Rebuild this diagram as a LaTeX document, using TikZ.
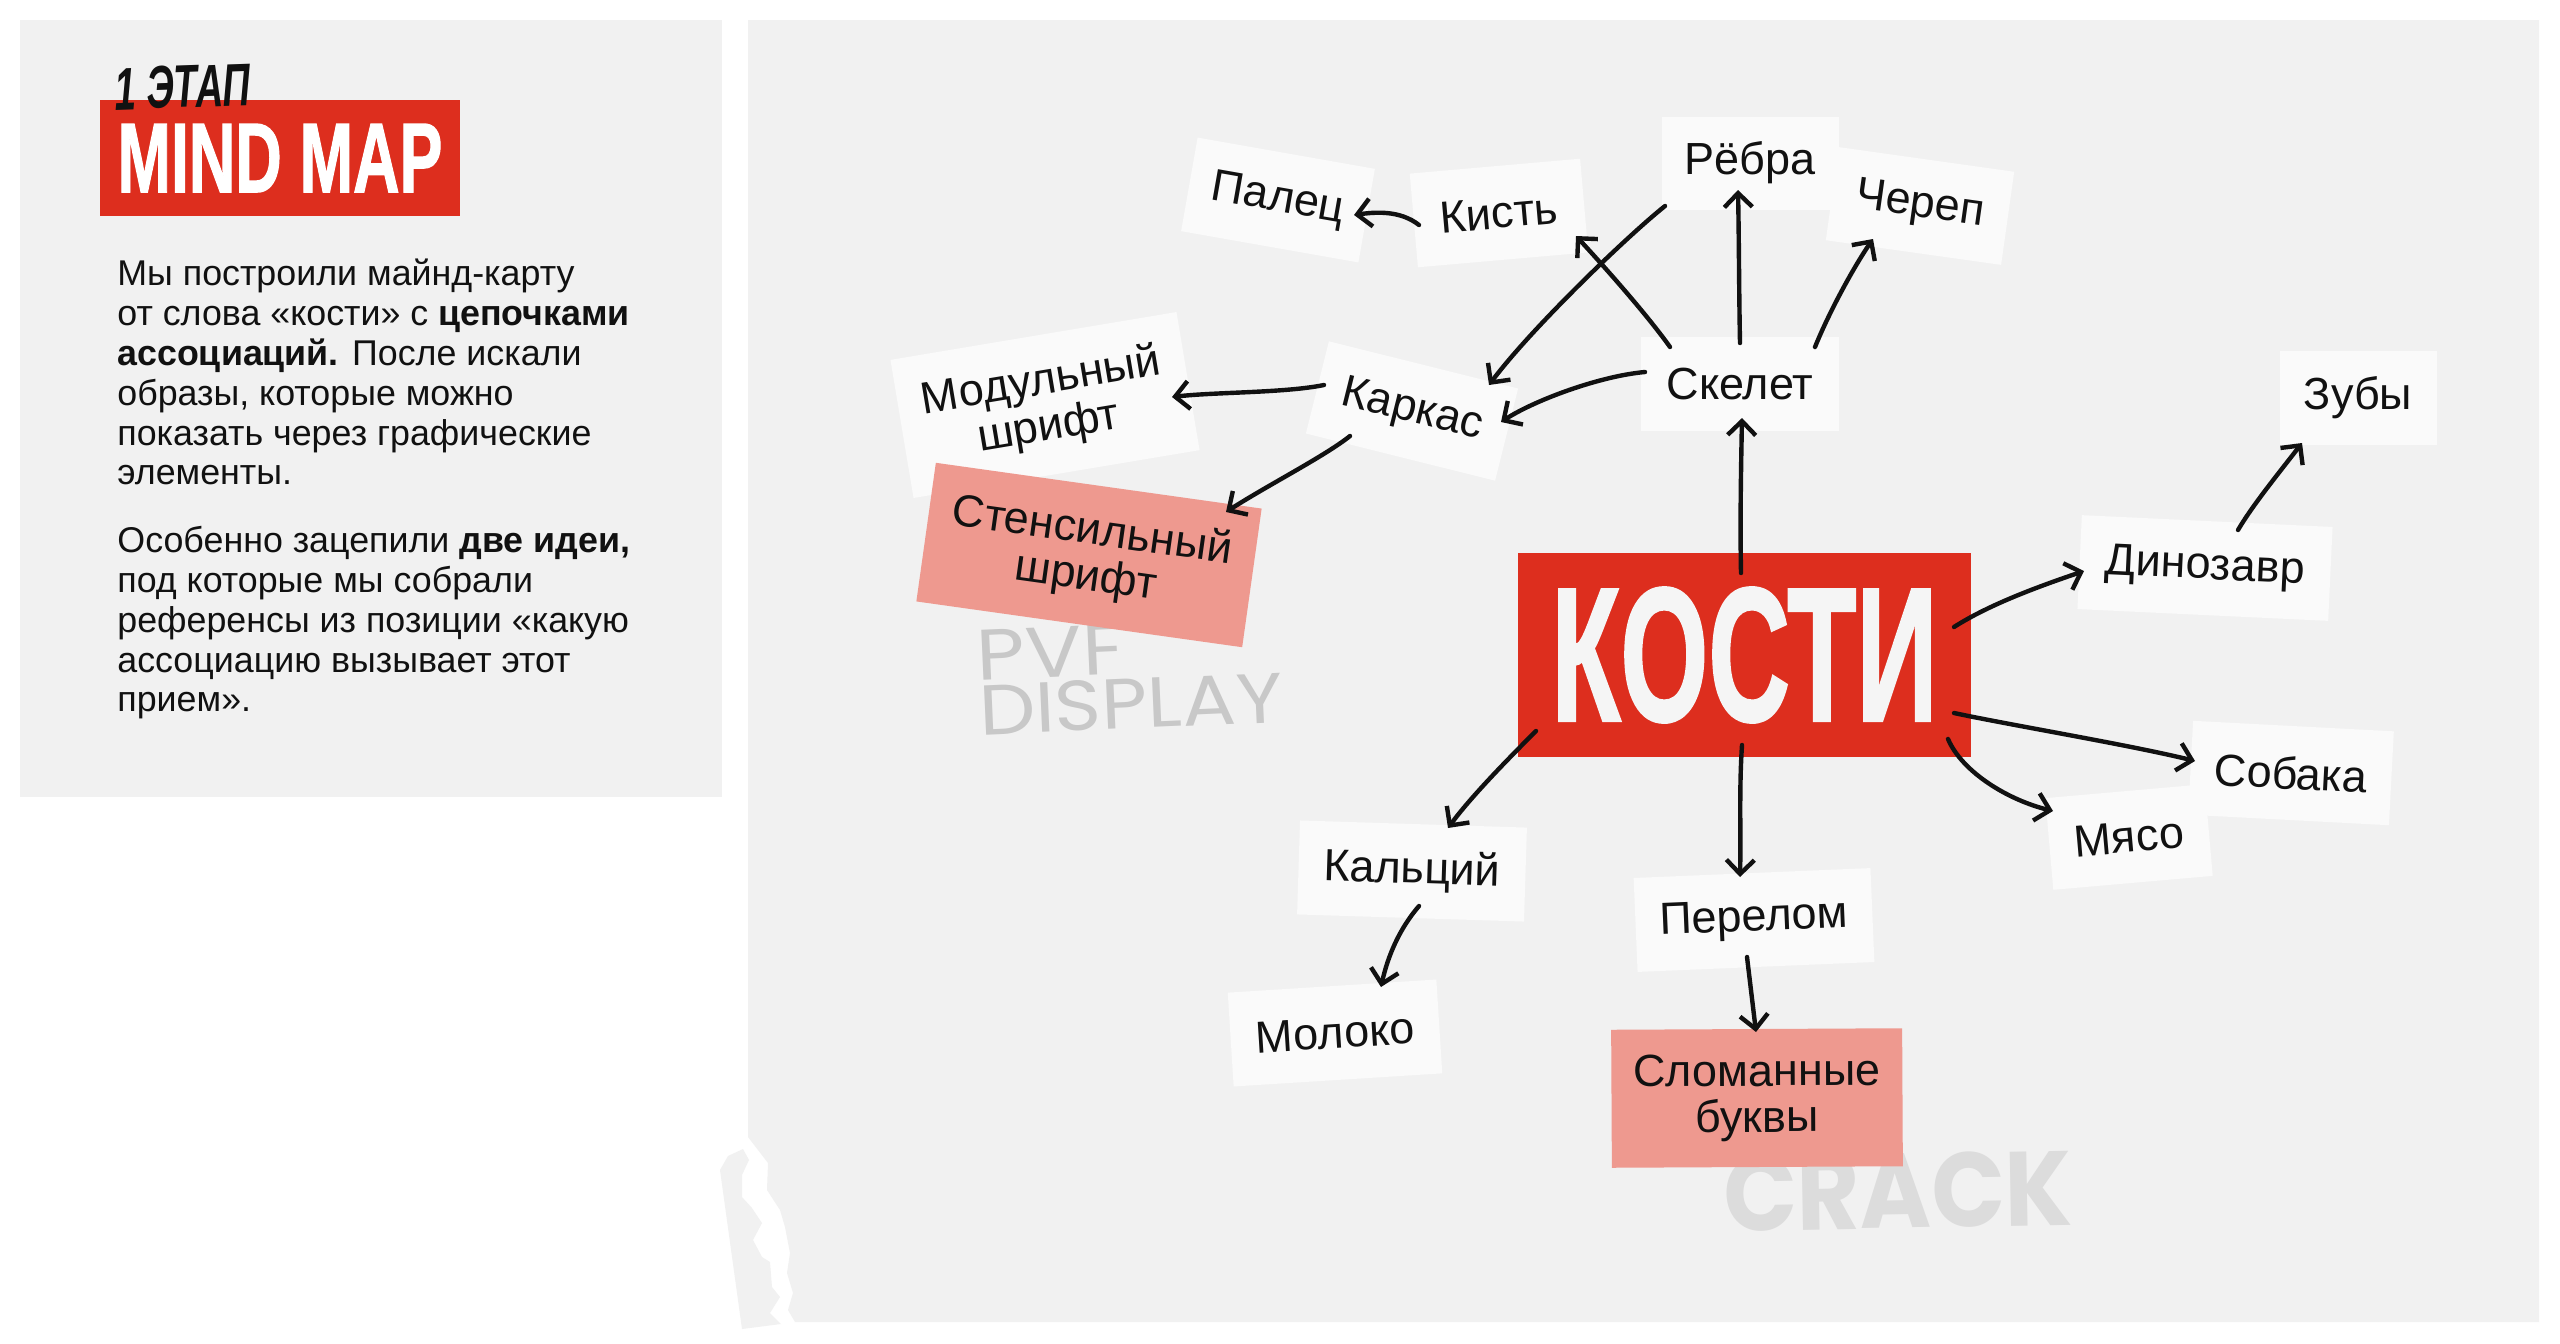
\documentclass[tikz,border=0pt]{standalone}
\usepackage{fontspec}
\usepackage{graphicx}
\usetikzlibrary{arrows.meta}
\setmainfont{Liberation Sans}
\newfontfamily\heavyfont{Liberation Sans}[BoldFeatures={FakeBold=1.5}]
\newfontfamily\popfont{Poppins}
\definecolor{panelc}{HTML}{F1F1F1}
\definecolor{cardc}{HTML}{FAFAFA}
\definecolor{redc}{HTML}{DD2E1E}
\definecolor{pinkc}{HTML}{EE998F}
\definecolor{wmA}{HTML}{C8C8C8}
\definecolor{wmB}{HTML}{DCDCDC}
\definecolor{txtc}{HTML}{111111}
\newcommand\bodysize{\fontsize{17.9pt}{19.9pt}\selectfont}
\newcommand\cardsize{\fontsize{22.5pt}{23pt}\selectfont}
\begin{document}
\begin{tikzpicture}[x=0.5pt,y=-0.5pt,
  card/.style={fill=cardc, inner sep=0pt, align=center, font=\cardsize, text=txtc},
  pinkcard/.style={card, fill=pinkc},
  conn/.style={line width=2.2pt, line cap=round, line join=round, txtc,
     -{Straight Barb[length=7pt,width=14pt]}}]
\useasboundingbox (0,0) rectangle (2560,1344);
\fill[white] (0,0) rectangle (2560,1344);
% left panel
\fill[panelc] (20,20) rectangle (722,797);
% right panel with torn corner
\fill[panelc] (748,20) -- (2539,20) -- (2539,1322) -- (795,1322) -- (788,1310) -- (793,1293)
  -- (787,1273) -- (790,1253) -- (785,1227) -- (780,1210) -- (767,1190) -- (768,1163) -- (748,1137) -- cycle;
\fill[panelc] (720,1170) -- (728,1156) -- (743,1149) -- (749,1160) -- (742,1175) -- (742,1197) -- (752,1208)
  -- (762,1223) -- (753,1240) -- (762,1257) -- (770,1262) -- (772,1287) -- (780,1297) -- (770,1313)
  -- (781,1324) -- (742,1329) -- cycle;

% left panel content
\node[fill=redc, minimum width=180pt, minimum height=58pt, inner sep=0pt, text=white] (title) at (280,158)
  {\resizebox{162.5pt}{34pt}{\heavyfont\bfseries MIND MAP}};
\node[anchor=south west, inner sep=0pt, text=txtc, rotate=2] (stage) at (115,111)
  {\resizebox{68pt}{21pt}{\bfseries\itshape 1 ЭТАП}};
\node[anchor=north west, inner sep=0pt, align=left, font=\bodysize, text=txtc] (body) at (117,259)
  {Мы построили майнд-карту\\от слова «кости» с \textbf{цепочками}\\\textbf{ассоциаций.} После искали\\образы, которые можно\\показать через графические\\элементы.\\[14pt]Особенно зацепили \textbf{две идеи,}\\под которые мы собрали\\референсы из позиции «какую\\ассоциацию вызывает этот\\прием».};

% watermarks
\node[rotate=2.5, anchor=north west, inner sep=0pt, align=left, text=wmA,
  font=\popfont\fontsize{35pt}{27.5pt}\selectfont] (pvf) at (975,630)
  {\resizebox{74pt}{25pt}{PVF}\\\resizebox{152pt}{25pt}{DISPLAY}};
\node[rotate=1, inner sep=0pt, text=wmB] (crack) at (1898,1191)
  {\resizebox{174.5pt}{37.5pt}{\popfont\bfseries CRACK}};

% cards
\node[card, minimum width=90pt, minimum height=47.5pt, rotate=-10] (palec) at (1278,200) {Палец};
\node[card, minimum width=85.5pt, minimum height=47pt, rotate=5] (kist) at (1499,213) {Кисть};
\node[card, minimum width=88.5pt, minimum height=46.5pt] (rebra) at (1750,163) {Рёбра};
\node[card, minimum width=88.5pt, minimum height=47pt, rotate=-8] (cherep) at (1920,206) {Череп};
\node[card, minimum width=99pt, minimum height=47pt] (skelet) at (1740,384) {Скелет};
\node[card, minimum width=97.5pt, minimum height=47.5pt, rotate=-14] (karkas) at (1412,411) {Каркас};
\node[card, minimum width=145pt, minimum height=70pt, rotate=9.5] (modul) at (1045,405) {Модульный\\шрифт};
\node[pinkcard, minimum width=164.5pt, minimum height=70pt, rotate=-8] (stencil) at (1089,555) {Стенсильный\\шрифт};
\node[fill=redc, minimum width=226.5pt, minimum height=102pt, inner sep=0pt, text=white!96!black] (kosti) at (1744.5,655)
  {\resizebox{193pt}{66.5pt}{\heavyfont\bfseries КОСТИ}};
\node[card, minimum width=125.5pt, minimum height=47pt, rotate=-2.7] (dino) at (2205,568) {Динозавр};
\node[card, minimum width=78.5pt, minimum height=47pt] (zuby) at (2358,398) {Зубы};
\node[card, minimum width=100.5pt, minimum height=47pt, rotate=-3] (sobaka) at (2291,773) {Собака};
\node[card, minimum width=80pt, minimum height=46pt, rotate=5] (myaso) at (2129,837) {Мясо};
\node[card, minimum width=113.5pt, minimum height=47pt, rotate=-1.8] (kalcij) at (1412,871) {Кальций};
\node[card, minimum width=104.5pt, minimum height=47pt, rotate=3.6] (moloko) at (1335,1033) {Молоко};
\node[card, minimum width=118.5pt, minimum height=47pt, rotate=2.4] (perelom) at (1754,920) {Перелом};
\node[pinkcard, minimum width=145.5pt, minimum height=69pt, rotate=0.3] (slom) at (1757,1098) {Сломанные\\буквы};

% connectors
\draw[conn] ([shift={(-80,12)}]kist.center) .. controls +(-19,-15) and +(21,-3) .. ([shift={(76,15)}]palec.center);
\draw[conn] ([shift={(-70,-37)}]skelet.center) .. controls +(-25,-35) and +(24,26) .. ([shift={(77,23)}]kist.center);
\draw[conn] ([shift={(-85,43)}]rebra.center) .. controls +(-40,32) and +(41,-55) .. ([shift={(77,-26)}]karkas.center);
\draw[conn] ([shift={(0,-41)}]skelet.center) .. controls +(-1,-50) and +(1,50) .. ([shift={(-12,27)}]rebra.center);
\draw[conn] ([shift={(75,-37)}]skelet.center) .. controls +(15,-37) and +(-18,26) .. ([shift={(-47,33)}]cherep.center);
\draw[conn] ([shift={(-95,-12)}]skelet.center) .. controls +(-45,4) and +(34,-22) .. ([shift={(89,11)}]karkas.center);
\draw[conn] ([shift={(-3.5,-82)}]kosti.center) .. controls +(-1,-50) and +(-1,50) .. ([shift={(2,34)}]skelet.center);
\draw[conn] ([shift={(-88,-26)}]karkas.center) .. controls +(-39,8) and +(43,-5) .. ([shift={(127,-8)}]modul.center);
\draw[conn] ([shift={(-62,25)}]karkas.center) .. controls +(-25,20) and +(42,-27) .. ([shift={(137,-43)}]stencil.center);
\draw[conn] ([shift={(209.5,-28)}]kosti.center) .. controls +(36,-23) and +(-44,15) .. ([shift={(-121,3)}]dino.center);
\draw[conn] ([shift={(33,-38)}]dino.center) .. controls +(14,-24) and +(-24,31) .. ([shift={(-56,45)}]zuby.center);
\draw[conn] ([shift={(209.5,58)}]kosti.center) .. controls +(56,12) and +(-65,-16) .. ([shift={(-96,-12)}]sobaka.center);
\draw[conn] ([shift={(203.5,84)}]kosti.center) .. controls +(14,33) and +(-45,-11) .. ([shift={(-76,-26)}]myaso.center);
\draw[conn] ([shift={(-208.5,76)}]kosti.center) .. controls +(-31,31) and +(22,-30) .. ([shift={(36,-43)}]kalcij.center);
\draw[conn] ([shift={(-2.5,90)}]kosti.center) .. controls +(-3,45) and +(1,-45) .. ([shift={(-14,-43)}]perelom.center);
\draw[conn] ([shift={(7,35)}]kalcij.center) .. controls +(-19,22) and +(7,-32) .. ([shift={(46,-46)}]moloko.center);
\draw[conn] ([shift={(-7,37)}]perelom.center) .. controls +(3,25) and +(-3,-25) .. ([shift={(-1,-66)}]slom.center);
\end{tikzpicture}
\end{document}
